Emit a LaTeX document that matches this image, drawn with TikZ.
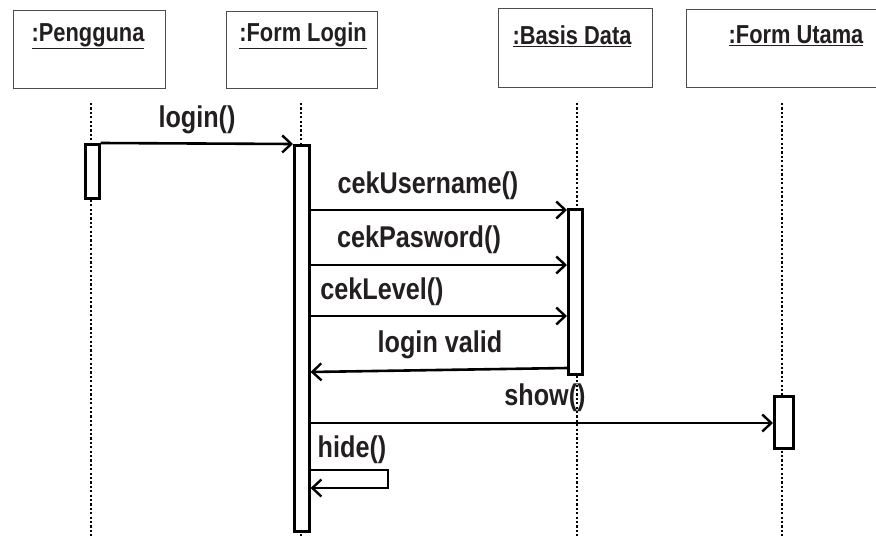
\documentclass[tikz,border=0pt]{standalone}
\usepackage{fontspec}
\setmainfont{Liberation Sans}[FakeStretch=0.84]
\usetikzlibrary{arrows.meta}
\definecolor{ink}{RGB}{35,31,32}
\tikzset{
  x=1pt, y=-1pt,
  headbox/.style={draw=black!70, line width=1pt, fill=white, anchor=north west, inner sep=0pt},
  headlabel/.style={font=\bfseries\fontsize{26}{28}\selectfont, text=ink},
  actbox/.style={draw=black, line width=2.6pt, fill=white, anchor=north west, inner sep=0pt},
  lifeline/.style={line width=2.6pt, dash pattern=on 2.2pt off 2.2pt},
  msg/.style={line width=2.6pt, -{Straight Barb[length=9pt,width=17pt,line width=2.4pt]}},
  msglabel/.style={font=\bfseries\fontsize{30}{32}\selectfont, text=ink, inner sep=0pt}
}
\begin{document}
\begin{tikzpicture}
\useasboundingbox (0,0) rectangle (876,538);

% object heads
\node[headbox, minimum width=152pt, minimum height=78pt] (hP) at (13,10) {};
\node[headbox, minimum width=151pt, minimum height=77pt] (hL) at (226,11) {};
\node[headbox, minimum width=154pt, minimum height=79pt] (hB) at (498,8) {};
\node[headbox, minimum width=200pt, minimum height=78pt] (hU) at (686,9) {};
\node[headlabel] (tP) at (88,36) {\underline{:Pengguna}};
\node[headlabel] (tL) at (303,36) {\underline{:Form Login}};
\node[headlabel] (tB) at (572,36) {\underline{:Basis Data}};
\node[headlabel] (tU) at (796,36) {\underline{:Form Utama}};

% lifelines
\coordinate (lP0) at (91,103);  \coordinate (lP1) at (91,538);
\coordinate (lL0) at (301,103); \coordinate (lL1) at (301,538);
\coordinate (lB0) at (577,103); \coordinate (lB1) at (577,538);
\coordinate (lU0) at (782,103); \coordinate (lU1) at (782,538);
\draw[lifeline] (lP0) -- (lP1);
\draw[lifeline] (lL0) -- (lL1);
\draw[lifeline] (lB0) -- (lB1);
\draw[lifeline] (lU0) -- (lU1);

% activation bars
\node[actbox, minimum width=14pt, minimum height=54pt] (aP) at (84,143) {};
\node[actbox, minimum width=15pt, minimum height=386pt] (aL) at (293,144) {};
\node[actbox, minimum width=14pt, minimum height=165pt] (aB) at (567,208) {};
\node[actbox, minimum width=19pt, minimum height=52pt] (aU) at (773,395) {};

% messages
\draw[msg] (aP.north east) -- (aL.north west);
\node[msglabel] (mLogin) at (197,120) {login()};

\draw[msg] (aL.east |- 0,210) -- (aB.west |- 0,210);
\node[msglabel] (mUser) at (428,186) {cekUsername()};

\draw[msg] (aL.east |- 0,265) -- (aB.west |- 0,265);
\node[msglabel] (mPass) at (419,240) {cekPasword()};

\draw[msg] (aL.east |- 0,316) -- (aB.west |- 0,316);
\node[msglabel] (mLevel) at (382,292) {cekLevel()};

\draw[msg] (aB.west |- 0,368) -- (aL.east |- 0,372);
\node[msglabel] (mValid) at (440,345) {login valid};

\draw[msg] (aL.east |- 0,423) -- (aU.west |- 0,423);
\node[msglabel] (mShow) at (545,398) {show()};

\coordinate (hA) at (388,470);
\coordinate (hB2) at (388,488);
\draw[msg] (aL.east |- 0,470) -- (hA) -- (hB2) -- (aL.east |- 0,488);
\node[msglabel] (mHide) at (352,450) {hide()};
\end{tikzpicture}
\end{document}
